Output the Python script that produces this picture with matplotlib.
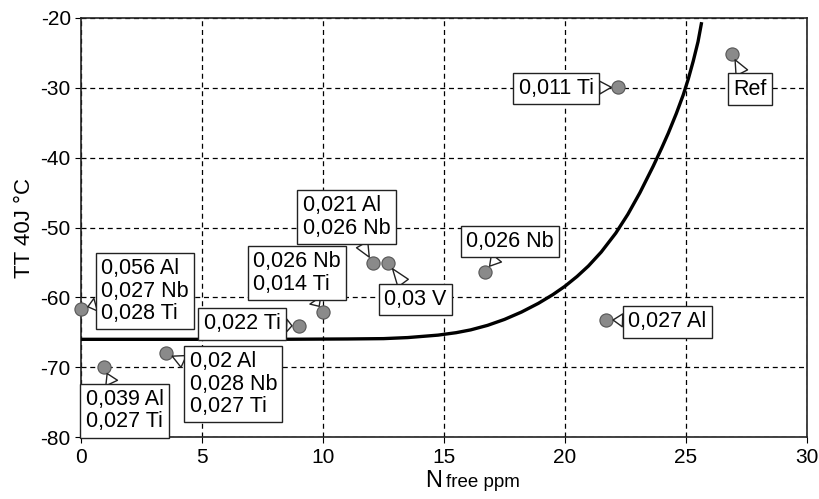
import matplotlib.pyplot as plt

plt.rcParams['font.family'] = ['Liberation Sans', 'DejaVu Sans']
plt.rcParams['axes.unicode_minus'] = False

# measured points (N free ppm, TT 40J)
pts_x = [0.0, 0.95, 3.5, 9.0, 10.0, 12.05, 12.7, 16.7, 21.7, 22.2, 26.9]
pts_y = [-61.6, -70.0, -68.0, -64.1, -62.1, -55.1, -55.1, -56.3, -63.2, -29.9, -25.1]
labels = ['0,056 Al\n0,027 Nb\n0,028 Ti', '0,039 Al\n0,027 Ti', '0,02 Al\n0,028 Nb\n0,027 Ti',
          '0,022 Ti', '0,026 Nb\n0,014 Ti', '0,021 Al\n0,026 Nb', '0,03 V', '0,026 Nb',
          '0,027 Al', '0,011 Ti', 'Ref']
# label box centres
lab_x = [2.65, 1.80, 6.29, 6.66, 8.91, 10.97, 13.81, 17.73, 24.24, 19.64, 27.66]
lab_y = [-59.1, -76.2, -72.4, -63.8, -56.5, -48.5, -60.3, -52.0, -63.5, -30.1, -30.2]

# trend curve
curve_x = [0, 4, 8, 11, 12.5, 13.5, 14.75, 15.5, 16.1, 16.8, 17.5, 18.2, 18.9, 19.5, 20.0,
           20.5, 20.97, 21.5, 22.1, 22.6, 23.1, 23.65, 24.0, 24.27, 24.6, 24.89, 25.1, 25.3,
           25.5, 25.65]
curve_y = [-66.0, -66.0, -66.0, -65.95, -65.9, -65.75, -65.4, -65.05, -64.65, -64.0, -63.15,
           -62.1, -60.85, -59.6, -58.4, -57.0, -55.5, -53.5, -50.8, -48.1, -45.0, -41.2,
           -38.6, -36.5, -33.7, -31.0, -28.7, -26.2, -23.4, -20.6]

fig = plt.figure(figsize=(8.2, 4.99), dpi=100)
ax = fig.add_axes([0.099, 0.124, 0.885, 0.84])

ax.plot(curve_x, curve_y, color='black', lw=2.4, solid_capstyle='butt', zorder=3)
ax.scatter(pts_x, pts_y, s=90, color='#8a8a8a', edgecolors='#555555', linewidths=0.8,
           zorder=4, clip_on=False)

for t, px, py, tx, ty in zip(labels, pts_x, pts_y, lab_x, lab_y):
    ax.annotate(t, xy=(px, py), xytext=(tx, ty), ha='center', va='center',
                multialignment='left', fontsize=15.5, linespacing=1.08, zorder=5,
                bbox=dict(boxstyle='square,pad=0.25', fc='white', ec='#222222', lw=1),
                arrowprops=dict(arrowstyle='wedge,tail_width=0.6,shrink_factor=0.5',
                                fc='white', ec='#222222', lw=1, shrinkA=0, shrinkB=5))

ax.set_xlim(0, 30)
ax.set_ylim(-80, -20)
ax.set_xticks(range(0, 31, 5))
ax.set_yticks(range(-80, -19, 10))
ax.grid(True, color='black', linestyle=(0, (4, 3)), lw=0.9)
ax.tick_params(labelsize=15, length=4, color='black')
for s in ax.spines.values():
    s.set_color('#222222')
    s.set_linewidth(1.2)

ax.set_ylabel('TT 40J °C', fontsize=16, labelpad=4)
ax.text(0.497, -0.12, 'N', transform=ax.transAxes, fontsize=17, ha='right', va='baseline')
ax.text(0.503, -0.12, 'free ppm', transform=ax.transAxes, fontsize=13.5, ha='left', va='baseline')

fig.savefig('out.png', dpi=100)
